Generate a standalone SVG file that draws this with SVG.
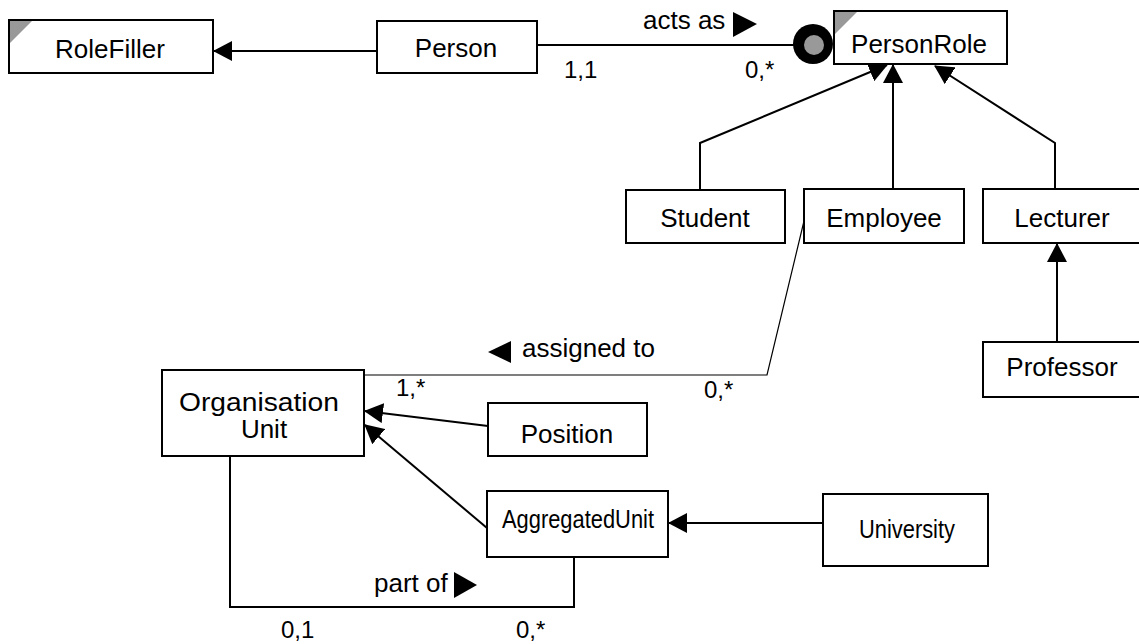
<svg xmlns="http://www.w3.org/2000/svg" width="1139" height="644" viewBox="0 0 1139 644">
  <defs>
    <style>
      .box { fill: #ffffff; stroke: #000000; stroke-width: 2; }
      .corner { fill: #999999; stroke: none; }
      .lbl { font-family: "Liberation Sans", Arial, sans-serif; font-size: 26px; fill: #000000; }
      .card { font-family: "Liberation Sans", Arial, sans-serif; font-size: 24px; fill: #000000; }
      .mid { text-anchor: middle; }
      .edge { fill: none; stroke: #000000; stroke-width: 2; }
      .thin { fill: none; stroke: #000000; stroke-width: 1.2; }
      .tri { fill: #000000; stroke: none; }
    </style>
    <marker id="head" markerWidth="19" markerHeight="20" viewBox="0 0 19 20" refX="18" refY="10" orient="auto" markerUnits="userSpaceOnUse">
      <path d="M0,0 L19,10 L0,20 Z" fill="#000000"/>
    </marker>
  </defs>

  <rect width="1139" height="644" fill="#ffffff"/>

  <!-- connectors -->
  <g id="connectors">
    <!-- Person specialises RoleFiller -->
    <line class="edge" x1="377" y1="51" x2="214" y2="51" marker-end="url(#head)"/>
    <!-- acts as -->
    <line class="edge" x1="537" y1="45" x2="795" y2="45"/>
    <!-- role subtypes -->
    <polyline class="edge" points="700,190 700,143 887,65" marker-end="url(#head)"/>
    <line class="edge" x1="893" y1="189" x2="893" y2="65" marker-end="url(#head)"/>
    <polyline class="edge" points="1055,189 1055,143 935,66" marker-end="url(#head)"/>
    <line class="edge" x1="1057" y1="342" x2="1057" y2="244" marker-end="url(#head)"/>
    <!-- assigned to -->
    <polyline class="thin" points="804,221 767,375 364,375"/>
    <!-- organisation hierarchy -->
    <line class="edge" x1="488" y1="426" x2="365" y2="411" marker-end="url(#head)"/>
    <line class="edge" x1="487" y1="528" x2="365" y2="425" marker-end="url(#head)"/>
    <line class="edge" x1="823" y1="523" x2="669" y2="523" marker-end="url(#head)"/>
    <!-- part of -->
    <polyline class="edge" points="230,456 230,607 574,607 574,557"/>

    <!-- role filler marker -->
    <circle cx="813" cy="44" r="20" fill="#000000"/>
    <circle cx="814" cy="45" r="10" fill="#999999"/>

    <!-- association labels -->
    <text class="lbl" x="643" y="29">acts as</text>
    <path class="tri" d="M733,12 L757,24 L733,37 Z"/>
    <text class="card" x="564" y="78">1,1</text>
    <text class="card" x="745" y="78">0,*</text>

    <path class="tri" d="M488,352 L511,341 L511,363 Z"/>
    <text class="lbl" x="522" y="357">assigned to</text>
    <text class="card" x="396" y="396">1,*</text>
    <text class="card" x="704" y="398">0,*</text>

    <text class="lbl" x="374" y="592">part of</text>
    <path class="tri" d="M454,572 L477,585 L454,598 Z"/>
    <text class="card" x="281" y="638" font-size="25">0,1</text>
    <text class="card" x="516" y="638" font-size="25">0,*</text>
  </g>

  <g id="RoleFiller">
    <rect class="box" x="9" y="20" width="204" height="53"/>
    <path class="corner" d="M10,21 L32,21 L10,43 Z"/>
    <text class="lbl mid" x="110" y="58">RoleFiller</text>
  </g>

  <g id="Person">
    <rect class="box" x="377" y="21" width="160" height="52"/>
    <text class="lbl mid" x="456" y="57">Person</text>
  </g>

  <g id="PersonRole">
    <rect class="box" x="834" y="11" width="173" height="53"/>
    <path class="corner" d="M835,12 L857,12 L835,34 Z"/>
    <text class="lbl mid" x="919" y="53">PersonRole</text>
  </g>

  <g id="Student">
    <rect class="box" x="626" y="190" width="159" height="53"/>
    <text class="lbl mid" x="705" y="227">Student</text>
  </g>

  <g id="Employee">
    <rect class="box" x="804" y="189" width="160" height="54"/>
    <text class="lbl mid" x="884" y="227">Employee</text>
  </g>

  <g id="Lecturer">
    <rect class="box" x="983" y="189" width="160" height="54"/>
    <text class="lbl mid" x="1062" y="227">Lecturer</text>
  </g>

  <g id="Professor">
    <rect class="box" x="983" y="342" width="160" height="55"/>
    <text class="lbl mid" x="1062" y="376">Professor</text>
  </g>

  <g id="OrganisationUnit">
    <rect class="box" x="162" y="370" width="202" height="86"/>
    <text class="lbl mid" x="259" y="411" textLength="160" lengthAdjust="spacingAndGlyphs">Organisation</text>
    <text class="lbl mid" x="264" y="438">Unit</text>
  </g>

  <g id="Position">
    <rect class="box" x="488" y="403" width="159" height="53"/>
    <text class="lbl mid" x="567" y="443">Position</text>
  </g>

  <g id="AggregatedUnit">
    <rect class="box" x="487" y="491" width="181" height="66"/>
    <text class="lbl mid" x="578" y="528" textLength="152" lengthAdjust="spacingAndGlyphs">AggregatedUnit</text>
  </g>

  <g id="University">
    <rect class="box" x="823" y="494" width="165" height="72"/>
    <text class="lbl mid" x="907" y="538" textLength="96" lengthAdjust="spacingAndGlyphs">University</text>
  </g>
</svg>
